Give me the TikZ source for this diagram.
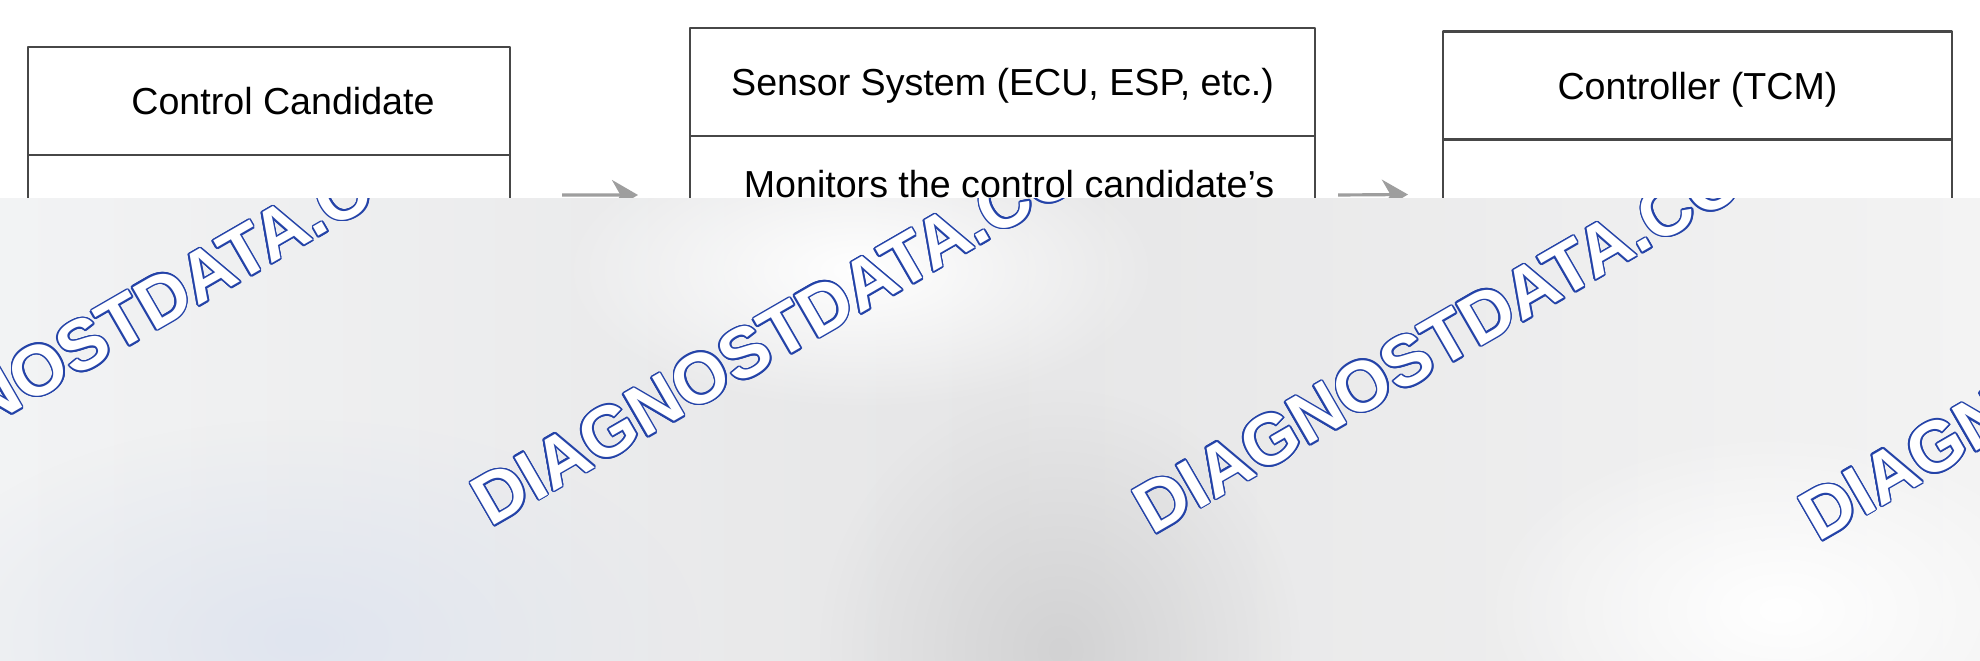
\documentclass[tikz,border=0pt]{standalone}
\usepackage{fontspec}
\setmainfont{Liberation Sans}
\usepackage{contour}
\usetikzlibrary{positioning,arrows.meta,fadings}
\contourlength{0.45pt}
\definecolor{wmblue}{HTML}{2443A8}
\definecolor{ovlL}{HTML}{F2F3F4}
\definecolor{ovlM}{HTML}{E6E6E7}
\definecolor{ovlR}{HTML}{F3F3F3}
\definecolor{ovlD}{HTML}{D2D2D3}
\definecolor{ovlB}{HTML}{E0E5EF}
\tikzfading[name=blobfade, inner color=transparent!0, outer color=transparent!100]
\begin{document}
\begin{tikzpicture}[line join=round, font=\fontsize{10.7}{12.8}\selectfont,
	head/.style={draw=black!72, line width=0.8pt, minimum height=1.08cm, inner sep=0pt, outer sep=0pt, text height=0.27cm, text depth=0pt},
	body/.style={draw=black!72, line width=0.8pt, inner sep=0pt, outer sep=0pt},
	flow/.style={draw=black!38, line width=0.9pt, -{Stealth[length=2.6mm,width=3mm]}},
	wmark/.style={rotate=30, anchor=base west, inner sep=0pt, text=white, font=\fontsize{20.2}{24}\selectfont\bfseries}]
		\useasboundingbox (0,0) rectangle (19.8,6.6);
		\fill[white] (0,0) rectangle (19.8,6.6);
		% boxes
		\node[head, minimum width=4.82cm] (cand) at (2.69,5.59) {\hspace*{0.28cm}Control Candidate};
		\node[body, minimum width=4.82cm, minimum height=0.80cm, below=0pt of cand] (candbody) {};
		\node[head, minimum width=6.25cm] (sensor) at (10.025,5.78) {Sensor System (ECU, ESP, etc.)};
		\node[body, minimum width=6.25cm, minimum height=1.18cm, below=0pt of sensor] (sensorbody) {};
		\node[head, minimum width=5.09cm] (tcm) at (16.975,5.745) {Controller (TCM)};
		\node[body, minimum width=5.09cm, minimum height=1.10cm, below=0pt of tcm] (tcmbody) {};
		\node[anchor=base, inner sep=0pt] (monitor) at (10.09,4.63) {Monitors the control candidate's};
		\draw[flow] ([xshift=5.2mm]candbody.east) -- ([xshift=-5.2mm]sensorbody.west);
		\draw[flow] ([xshift=2.3mm]sensorbody.east) -- ([xshift=-3.5mm]tcmbody.west);
		% overlay
		\begin{scope}
			\clip (0,0) rectangle (19.8,4.62);
			\shade[left color=ovlL, right color=ovlR, middle color=ovlM] (0,0) rectangle (19.8,4.62);
			\fill[ovlB, path fading=blobfade] (3.0,0.2) ellipse (4.0 and 2.2);
			\fill[ovlD, path fading=blobfade] (10.6,0.1) ellipse (2.4 and 2.6);
			\fill[white, path fading=blobfade] (8.6,3.9) ellipse (3.0 and 1.4);
			\fill[white, path fading=blobfade] (17.8,0.5) ellipse (3.0 and 1.8);
			\foreach \x/\y [count=\i] in {-1.72/1.40, 4.90/1.32, 11.52/1.24, 18.18/1.17}
			\node[wmark] (wm\i) at (\x,\y) {\contour{wmblue}{DIAGNOSTDATA.COM}};
		\end{scope}
	\end{tikzpicture}
\end{document}
